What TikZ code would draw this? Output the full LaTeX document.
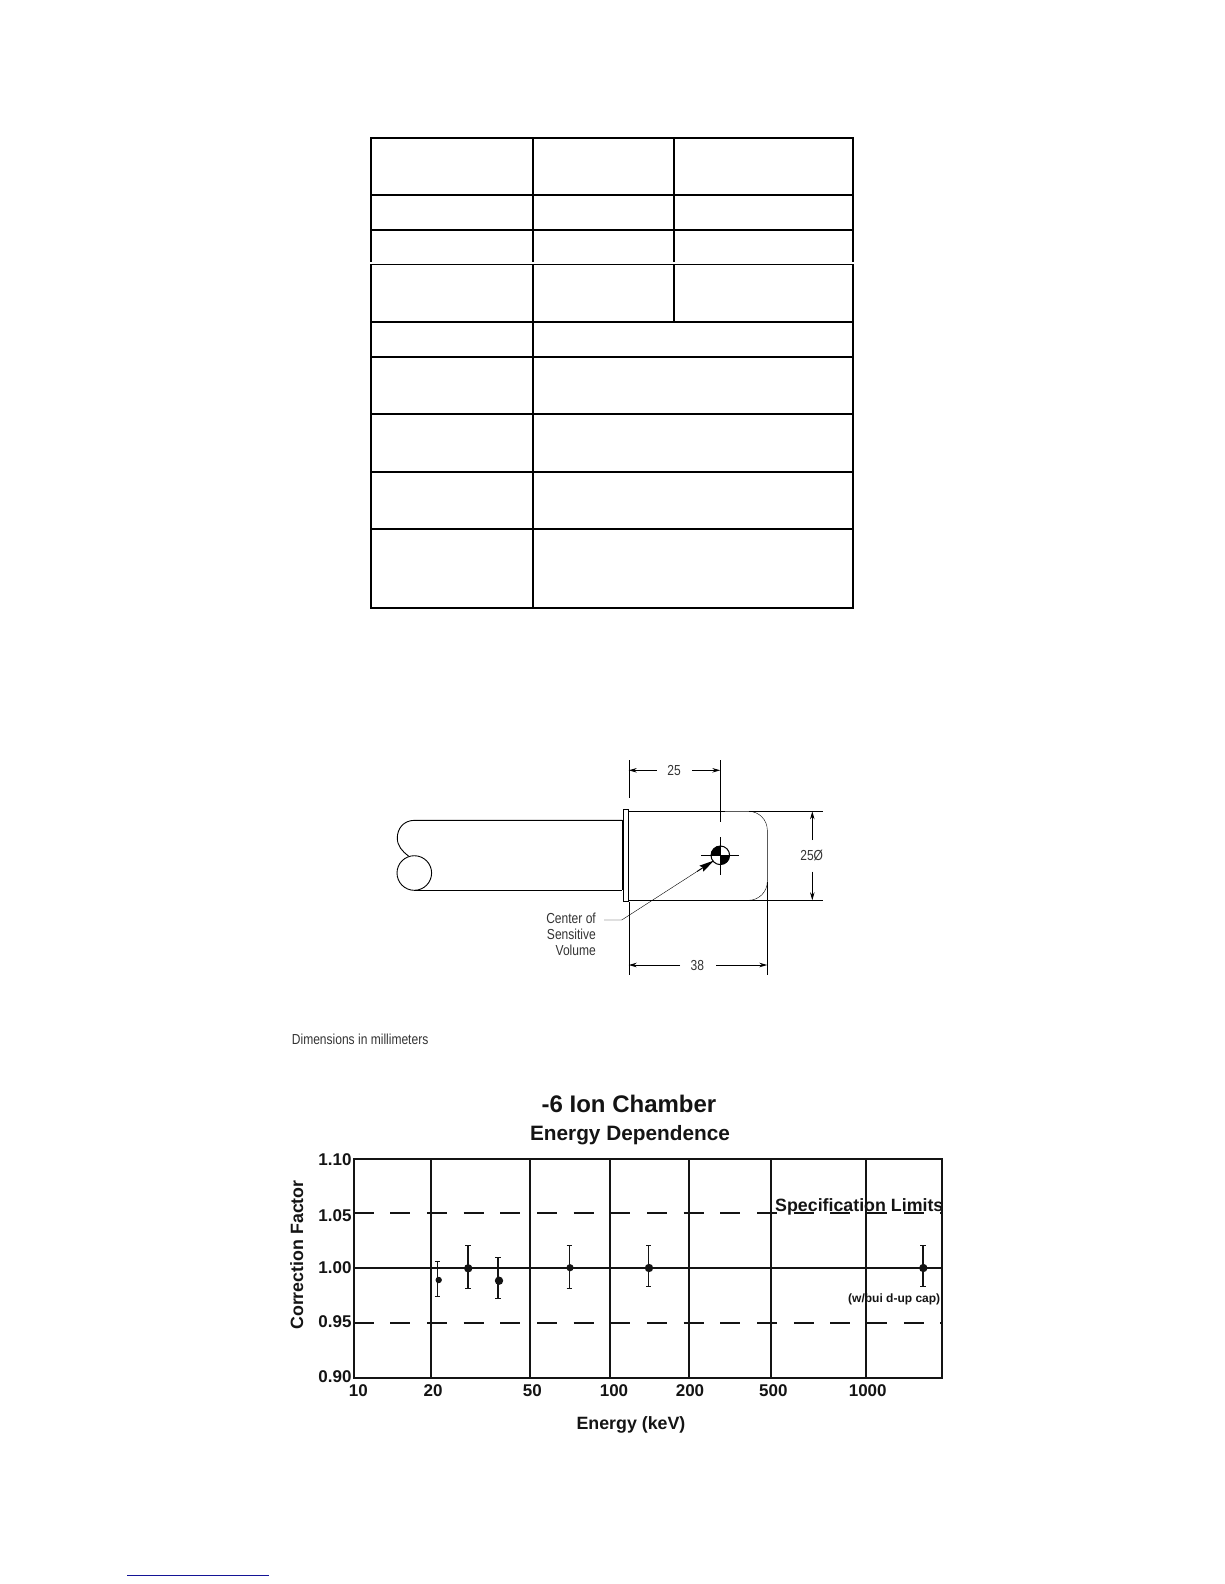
\documentclass[tikz,border=0pt]{standalone}
\usepackage{fontspec}
\setmainfont{Liberation Sans}
\usetikzlibrary{arrows.meta}
\definecolor{thin}{gray}{0.45}
\definecolor{gridk}{gray}{0.08}
\definecolor{linkblue}{RGB}{20,20,150}
\newcommand{\fs}[1]{\fontsize{#1}{#1}\selectfont}
\newcommand{\slim}[1]{\scalebox{0.83}[1]{#1}}
\tikzset{
  tablerule/.style={line width=2.2pt,black},
  drawline/.style={line width=0.9pt,black},
  paleline/.style={line width=0.8pt,thin},
  dimline/.style={line width=0.9pt,black,-{Stealth[length=8pt,width=4.5pt]}},
  drawlabel/.style={text=black!80,inner sep=0pt,font=\fs{14.5}},
  chartline/.style={line width=1.8pt,gridk},
  limitline/.style={line width=1.6pt,gridk,dash pattern=on 20pt off 16.67pt},
  errbar/.style={line width=1.5pt,gridk},
  axislabel/.style={inner sep=0pt,font=\fs{17}\bfseries,text=gridk},
  chartlabel/.style={inner sep=0pt,font=\fs{17.8}\bfseries,text=gridk}
}
\begin{document}
\begin{tikzpicture}[x=1pt,y=-1pt]
\useasboundingbox (0,0) rectangle (1224,1584);
% table
\draw[tablerule] (371,138) rectangle (853,608);
\foreach \yy in {195,230,322,357,414,472,529} \draw[tablerule] (371,\yy) -- (853,\yy);
\draw[tablerule] (533,138) -- (533,608);
\draw[tablerule] (674,138) -- (674,322);
\draw[white,line width=1.4pt] (369,263) -- (855,263);
\draw[black,line width=1.2pt] (370,264.4) -- (854,264.4);
% handle
\draw[drawline] (622.3,820.3) -- (415,820.3) .. controls (403,820.3) and (397.3,829) .. (397.3,838) .. controls (397.3,846) and (402,851) .. (408.5,856);
\draw[drawline] (414.3,890.3) -- (622.3,890.3);
\node[draw,drawline,circle,minimum size=34.6pt,inner sep=0pt] (coil) at (414.3,873) {};
\draw[line width=1.8pt,black] (623,820.3) -- (623,890.3);
% flange and body
\draw[drawline] (623.5,809.3) rectangle (628.7,901.7);
\draw[paleline] (628.7,811.3) -- (686.7,811.3);
\draw[drawline] (686.7,811.3) -- (725,811.3);
\draw[paleline] (725,811.3) -- (748.5,811.3) arc[start angle=-90,end angle=0,radius=18.8] -- (767.3,881.5) arc[start angle=0,end angle=90,radius=18.8];
\draw[paleline] (628.7,900.3) -- (686.7,900.3);
\draw[drawline] (686.7,900.3) -- (725,900.3);
\draw[paleline] (725,900.3) -- (748.5,900.3);
% extension lines
\draw[paleline] (628.7,760) -- (628.7,798);
\draw[paleline] (628.7,901.7) -- (628.7,975);
\draw[paleline] (767.3,881.5) -- (767.3,975);
\draw[paleline] (748.5,811.3) -- (823.3,811.3);
\draw[paleline] (748.5,900.3) -- (823.3,900.3);
% centre mark
\coordinate (cm) at (720.3,855.3);
\draw[drawline] (720.3,760) -- (720.3,822.3);
\draw[drawline] (701,855.3) -- (739,855.3);
\draw[drawline] (720.3,837.3) -- (720.3,875);
\fill[black] (711,855.3) -- (cm) -- (720.3,846) .. controls (715,846) and (711,850) .. cycle;
\fill[black] (729.6,855.3) -- (cm) -- (720.3,864.6) .. controls (725.5,864.6) and (729.6,860.5) .. cycle;
\node[draw,line width=1pt,circle,minimum size=18.6pt,inner sep=0pt] (csv) at (cm) {};
% dimension 25
\node[drawlabel] (d25) at (674,770.7) {\slim{25}};
\coordinate (d25l) at (628.7,770.3);
\coordinate (d25r) at (720.3,770.3);
\draw[dimline] (656.7,770.3) -- (d25l);
\draw[dimline] (692,770.3) -- (d25r);
% dimension 250
\node[drawlabel] (d250) at (811.7,855.7) {\slim{25Ø}};
\coordinate (d250t) at (812.3,811.3);
\coordinate (d250b) at (812.3,900.3);
\draw[dimline] (812.3,840) -- (d250t);
\draw[dimline] (812.3,871.7) -- (d250b);
% dimension 38
\node[drawlabel] (d38) at (697.3,965) {\slim{38}};
\coordinate (d38l) at (628.7,965);
\coordinate (d38r) at (767.3,965);
\draw[dimline] (680,965) -- (d38l);
\draw[dimline] (716,965) -- (d38r);
% leader
\node[drawlabel,anchor=east] (cen) at (596,918) {\slim{Center of}};
\node[drawlabel,anchor=east] at (596,934) {\slim{Sensitive}};
\node[drawlabel,anchor=east] at (596,950.7) {\slim{Volume}};
\coordinate (lead) at (604,920);
\coordinate (tail) at (697,871.5);
\coordinate (tip) at (714,860.5);
\draw[paleline] (lead) -- (621.7,920) -- (tail);
\draw[line width=1pt,black,-{Stealth[length=15pt,width=7pt,inset=2pt]}] (tail) -- (tip);
\node[drawlabel,anchor=west] (dims) at (291.7,1039) {\slim{Dimensions in millimeters}};
% chart titles
\node[inner sep=0pt,font=\fs{24}\bfseries,text=gridk] (title) at (629,1104) {-6 Ion Chamber};
\node[inner sep=0pt,font=\fs{20.8}\bfseries,text=gridk] (sub) at (630,1135) {Energy Dependence};
% chart grid
\foreach \xx in {431,530,610,689,771,866} \draw[chartline] (\xx,1159) -- (\xx,1378);
\draw[limitline] (353.7,1213) -- (941.7,1213);
\draw[limitline] (353.7,1323) -- (941.7,1323);
\draw[chartline,line width=1.4pt] (353.7,1268) -- (941.7,1268);
\draw[chartline] (354,1159) rectangle (942,1378);
% data
\foreach \xx/\ya/\yb/\mx/\my/\mr in {437.5/1261.7/1296.7/438.7/1280/3.2,468/1245.3/1288.7/468.2/1268.3/4.2,498/1257.7/1298.7/499/1280.7/4.2,569.3/1245.3/1288.7/570/1267.7/3.6,648.7/1245.3/1286.7/649/1268/4.2,923/1245.3/1286.7/923.3/1268/4.2}{
  \draw[errbar] (\xx,\ya) -- (\xx,\yb);
  \draw[errbar] (\xx-2.7,\ya) -- (\xx+2.7,\ya);
  \draw[errbar] (\xx-2.7,\yb) -- (\xx+2.7,\yb);
  \fill[gridk] (\mx,\my) circle[radius=\mr];
}
% axis labels
\foreach \lab/\yy in {1.10/1159.3,1.05/1216,1.00/1267.3,0.95/1321.3,0.90/1376.3}
  \node[axislabel,anchor=east] at (351.7,\yy) {\lab};
\foreach \lab/\xx in {10/358.3,20/433,50/532.3,100/614,200/690,500/773.3,1000/867.7}
  \node[axislabel] at (\xx,1390.5) {\lab};
\node[chartlabel,rotate=90] (ylab) at (296.7,1255) {Correction Factor};
\node[chartlabel] (xlab) at (631,1425) {Energy (keV)};
\node[chartlabel,anchor=west] (spec) at (775,1207) {Specification Limits};
\node[inner sep=0pt,font=\fs{12}\bfseries,text=gridk,anchor=west] (cap) at (848,1299) {(w/bui d-up cap)};
% link rule
\draw[linkblue,line width=1pt] (127,1575) -- (268.7,1575);
\end{tikzpicture}
\end{document}
